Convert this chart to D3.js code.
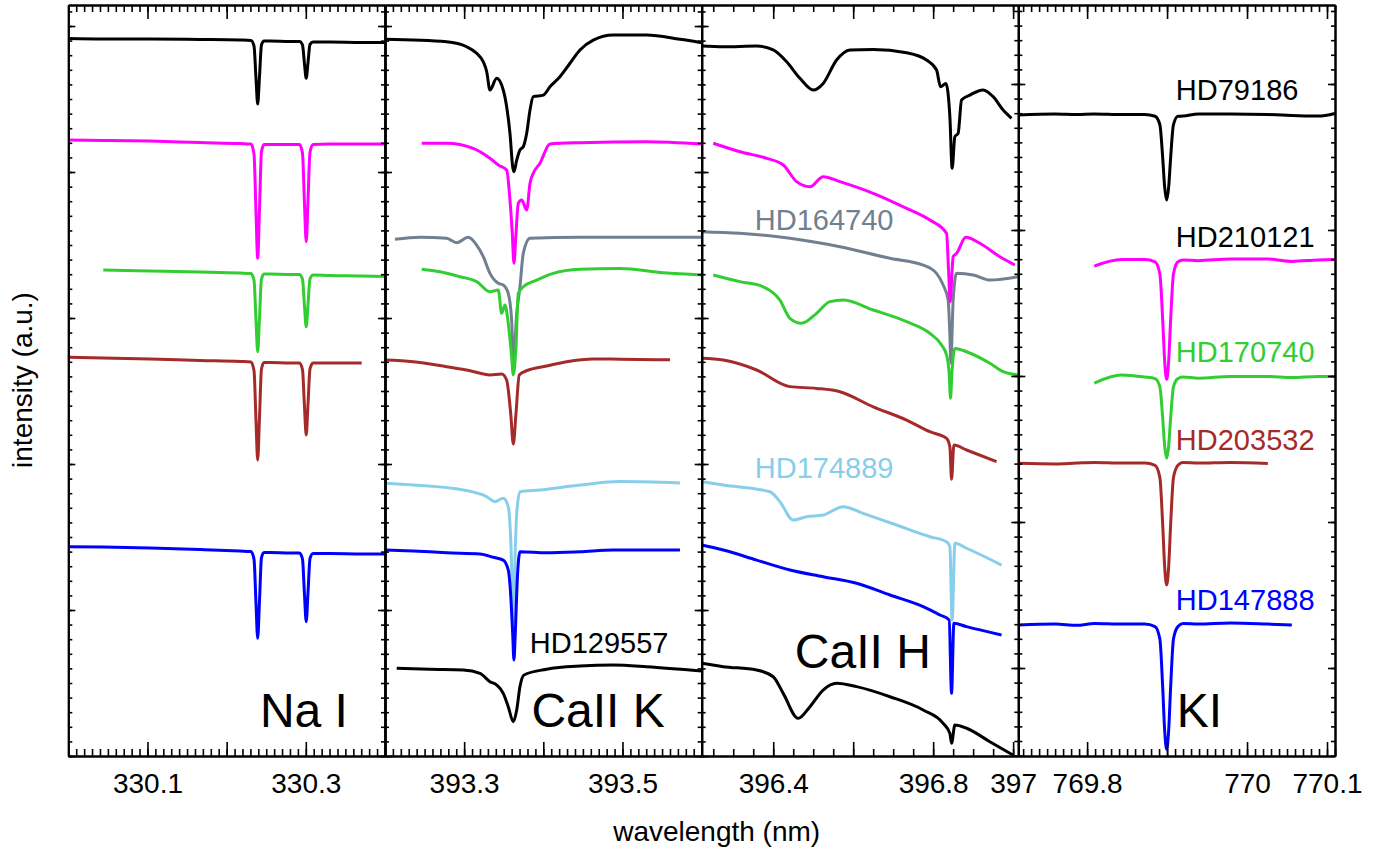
<!DOCTYPE html>
<html>
<head>
<meta charset="utf-8">
<script src="https://cdn.jsdelivr.net/npm/d3@7"></script>
<style>
body { margin: 0; background: #fff; }
text { font-family: "Liberation Sans", Arial, sans-serif; }
</style>
</head>
<body>
<script>
// stars and their colours
var starColors = {
  HD79186: "#000000", HD210121: "#ff00ff", HD164740: "#708090", HD170740: "#32cd32",
  HD203532: "#a52a2a", HD174889: "#87ceeb", HD147888: "#0000ff", HD129557: "#000000"
};
var labelColors = {
  HD79186: "#000000", HD210121: "#000000", HD164740: "#708090", HD170740: "#32cd32",
  HD203532: "#a52a2a", HD174889: "#87ceeb", HD147888: "#0000ff", HD129557: "#000000"
};

// x tick values (nm)
var naMajor = [330.1, 330.2, 330.3];
var naTickLabels = [330.1, 330.3];
var caKMajor = [393.3, 393.4, 393.5];
var caKTickLabels = [393.3, 393.5];
var caHMajor = [396.4, 396.6, 396.8, 397.0];
var caHTickLabels = [396.4, 396.8, 397];
var kiMajor = [769.8, 769.9, 770.0, 770.1];
var kiTickLabels = [769.8, 770, 770.1];

// Na I: shared wavelength grid (nm), intensity (a.u.)
var naWave = [330.0000, 330.0442, 330.1032, 330.1664, 330.2169, 330.2308, 330.2346, 330.2371, 330.2392, 330.2415, 330.2440, 330.2472,
  330.2548, 330.2800, 330.2920, 330.2958, 330.2983, 330.3005, 330.3028, 330.3053, 330.3091, 330.3306, 330.3706, 330.4000];
var naHD79186 = [4.914, 4.911, 4.911, 4.908, 4.904, 4.901, 4.862, 4.640, 4.466, 4.653, 4.870, 4.897, 4.897, 4.894, 4.894, 4.871, 4.742, 4.642, 4.750, 4.874, 4.890, 4.890, 4.887, 4.887];
var naHD210121 = [4.219, 4.216, 4.212, 4.202, 4.195, 4.192, 4.121, 3.722, 3.409, 3.745, 4.137, 4.188, 4.188, 4.188, 4.188, 4.129, 3.789, 3.523, 3.809, 4.135, 4.188, 4.192, 4.192, 4.192];
var naHD170740 = [null, 3.329, 3.322, 3.315, 3.308, 3.305, 3.257, 2.984, 2.769, 2.999, 3.267, 3.301, 3.301, 3.298, 3.298, 3.266, 3.084, 2.940, 3.094, 3.269, 3.295, 3.291, 3.288, 3.284];
var naHD203532 = [2.731, 2.726, 2.719, 2.709, 2.702, 2.699, 2.638, 2.296, 2.027, 2.316, 2.651, 2.695, 2.695, 2.692, 2.692, 2.647, 2.396, 2.199, 2.411, 2.652, 2.692, 2.692, 2.692, null];
var naHD147888 = [1.434, 1.432, 1.425, 1.414, 1.404, 1.401, 1.347, 1.044, 0.806, 1.062, 1.359, 1.394, 1.394, 1.390, 1.390, 1.348, 1.108, 0.920, 1.122, 1.353, 1.387, 1.387, 1.384, 1.384];

// K I: shared wavelength grid (nm), intensity (a.u.)
var kiWave = [769.714, 769.760, 769.787, 769.809, 769.843, 769.872, 769.885, 769.891, 769.8945, 769.897, 769.8995, 769.902,
  769.9045, 769.908, 769.9136, 769.920, 769.939, 769.979, 770.026, 770.056, 770.089, 770.110];
var kiHD79186 = [3.788, 3.795, 3.791, 3.795, 3.791, 3.791, 3.779, 3.721, 3.498, 3.293, 3.205, 3.293, 3.498, 3.721, 3.779, 3.780, 3.795, 3.795, 3.791, 3.785, 3.780, 3.798];
var kiHD210121 = [null, null, null, 2.753, 2.798, 2.798, 2.782, 2.699, 2.388, 2.101, 1.977, 2.101, 2.388, 2.699, 2.782, 2.795, 2.790, 2.801, 2.801, 2.785, 2.795, 2.798];
var kiHD170740 = [null, null, null, 1.952, 2.007, 1.993, 1.982, 1.926, 1.714, 1.520, 1.436, 1.520, 1.714, 1.926, 1.982, 1.993, 1.985, 1.997, 1.997, 1.990, 1.997, 1.997];
var kiHD203532 = [1.402, 1.398, 1.404, 1.408, 1.404, 1.404, 1.388, 1.304, 0.986, 0.694, 0.568, 0.694, 0.986, 1.304, 1.388, 1.408, 1.404, 1.408, 1.401, null, null, null];
var kiHD147888 = [0.295, 0.301, 0.292, 0.305, 0.301, 0.301, 0.284, 0.199, -0.128, -0.428, -0.557, -0.428, -0.128, 0.199, 0.284, 0.305, 0.301, 0.308, 0.301, 0.295, null, null];

// Ca II K: [nm, intensity]
var caK_HD79186 = [[393.2000, 4.909], [393.2779, 4.892], [393.3032, 4.858], [393.3158, 4.813], [393.3242, 4.755], [393.3285, 4.687], [393.3326, 4.562],
  [393.3411, 4.642], [393.3494, 4.562], [393.3537, 4.447], [393.3579, 4.265], [393.3613, 4.036], [393.3629, 4.002], [393.3664, 4.082], [393.3705, 4.151],
  [393.3747, 4.173], [393.3790, 4.265], [393.3832, 4.425], [393.3873, 4.516], [393.4000, 4.527], [393.4084, 4.584], [393.4210, 4.653], [393.4337, 4.745],
  [393.4463, 4.836], [393.4631, 4.904], [393.4884, 4.938], [393.5306, 4.938], [393.5726, 4.909], [393.6000, 4.886]];
var caK_HD210121 = [[393.2464, 4.197], [393.2779, 4.197], [393.3115, 4.162], [393.3326, 4.094], [393.3431, 4.048], [393.3537, 4.014], [393.3579, 3.808],
  [393.3608, 3.580], [393.3629, 3.375], [393.3655, 3.580], [393.3684, 3.786], [393.3727, 3.808], [393.3790, 3.740], [393.3832, 3.923], [393.3873, 3.991],
  [393.3958, 4.060], [393.4084, 4.192], [393.4463, 4.201], [393.5306, 4.208], [393.6000, 4.192]];
var caK_HD164740 = [[393.2126, 3.539], [393.2442, 3.553], [393.2779, 3.546], [393.2906, 3.516], [393.3052, 3.553], [393.3158, 3.500], [393.3242, 3.420],
  [393.3326, 3.306], [393.3431, 3.238], [393.3494, 3.226], [393.3557, 3.169], [393.3600, 2.986], [393.3621, 2.690], [393.3664, 3.032], [393.3705, 3.214],
  [393.3747, 3.443], [393.3832, 3.546], [393.4463, 3.553], [393.5306, 3.553], [393.6000, 3.553]];
var caK_HD170740 = [[393.2464, 3.334], [393.2695, 3.317], [393.2947, 3.283], [393.3158, 3.249], [393.3326, 3.180], [393.3431, 3.192], [393.3474, 3.032],
  [393.3516, 3.089], [393.3557, 2.964], [393.3600, 2.735], [393.3621, 2.610], [393.3655, 2.803], [393.3684, 3.169], [393.3747, 3.214], [393.3916, 3.260],
  [393.4126, 3.306], [393.4463, 3.334], [393.4968, 3.340], [393.5515, 3.310], [393.6000, 3.295]];
var caK_HD203532 = [[393.2000, 2.712], [393.2357, 2.701], [393.2779, 2.666], [393.3074, 2.639], [393.3326, 2.610], [393.3474, 2.616], [393.3537, 2.575],
  [393.3588, 2.347], [393.3621, 2.137], [393.3655, 2.347], [393.3696, 2.610], [393.3790, 2.639], [393.4042, 2.671], [393.4295, 2.701], [393.4631, 2.720],
  [393.4968, 2.718], [393.5600, 2.714]];
var caK_HD174889 = [[393.2000, 1.868], [393.2357, 1.856], [393.2989, 1.822], [393.3285, 1.776], [393.3389, 1.742], [393.3494, 1.765], [393.3557, 1.708],
  [393.3592, 1.434], [393.3621, 0.909], [393.3645, 1.400], [393.3664, 1.662], [393.3705, 1.810], [393.3958, 1.822], [393.4463, 1.856], [393.4968, 1.880],
  [393.5726, 1.870]];
var caK_HD147888 = [[393.2000, 1.411], [393.2357, 1.404], [393.2779, 1.392], [393.3200, 1.384], [393.3368, 1.361], [393.3494, 1.342], [393.3557, 1.274],
  [393.3592, 1.068], [393.3613, 0.840], [393.3629, 0.658], [393.3646, 0.840], [393.3671, 1.205], [393.3705, 1.399], [393.4042, 1.392], [393.4463, 1.399],
  [393.4884, 1.411], [393.5726, 1.411]];
var caK_HD129557 = [[393.2148, 0.601], [393.2568, 0.594], [393.2989, 0.589], [393.3200, 0.566], [393.3326, 0.509], [393.3411, 0.486], [393.3494, 0.429],
  [393.3557, 0.338], [393.3621, 0.235], [393.3664, 0.315], [393.3705, 0.475], [393.3756, 0.555], [393.4042, 0.594], [393.4463, 0.616], [393.4884, 0.623],
  [393.5306, 0.612], [393.6000, 0.582]];

// Ca II H: [nm, intensity]
var caH_HD79186 = [[396.221, 4.863], [396.275, 4.858], [396.3585, 4.863], [396.400, 4.836], [396.4335, 4.755], [396.4668, 4.642], [396.500, 4.562],
  [396.525, 4.607], [396.5585, 4.767], [396.5918, 4.836], [396.650, 4.840], [396.7335, 4.817], [396.7835, 4.767], [396.8085, 4.699], [396.8185, 4.584],
  [396.8318, 4.607], [396.8418, 4.379], [396.8475, 4.025], [396.8543, 4.242], [396.8625, 4.265], [396.871, 4.493], [396.8918, 4.527], [396.925, 4.562],
  [396.950, 4.516], [396.975, 4.425], [396.996, 4.368]];
var caH_HD210121 = [[396.250, 4.197], [396.3168, 4.139], [396.3835, 4.094], [396.425, 4.048], [396.4585, 3.934], [396.4918, 3.899], [396.525, 3.968],
  [396.5668, 3.934], [396.650, 3.854], [396.7335, 3.751], [396.7918, 3.671], [396.8335, 3.580], [396.8385, 3.329], [396.8425, 3.112], [396.8468, 3.295],
  [396.850, 3.420], [396.8585, 3.443], [396.8818, 3.553], [396.9168, 3.512], [396.9668, 3.420], [397.0043, 3.363]];
var caH_HD164740 = [[396.221, 3.591], [396.3168, 3.580], [396.4418, 3.546], [396.5668, 3.488], [396.6918, 3.409], [396.775, 3.363], [396.8085, 3.306],
  [396.825, 3.226], [396.8375, 3.123], [396.8418, 2.884], [396.8443, 2.690], [396.8475, 2.918], [396.850, 3.123], [396.8585, 3.306], [396.900, 3.295],
  [396.9418, 3.260], [397.0125, 3.283]];
var caH_HD170740 = [[396.250, 3.295], [396.3168, 3.249], [396.375, 3.214], [396.4168, 3.123], [396.4418, 2.998], [396.471, 2.964], [396.5085, 3.032],
  [396.5418, 3.112], [396.575, 3.123], [396.650, 3.055], [396.7335, 2.975], [396.7918, 2.895], [396.821, 2.815], [396.8335, 2.747], [396.840, 2.621],
  [396.8435, 2.450], [396.8468, 2.621], [396.8543, 2.792], [396.8835, 2.769], [396.9418, 2.690], [396.975, 2.632], [397.0125, 2.610]];
var caH_HD203532 = [[396.221, 2.724], [396.275, 2.712], [396.3585, 2.644], [396.4418, 2.530], [396.5085, 2.518], [396.5668, 2.495], [396.650, 2.392],
  [396.7335, 2.301], [396.7918, 2.221], [396.8335, 2.176], [396.8418, 2.118], [396.846, 1.895], [396.8518, 2.130], [396.8835, 2.096], [396.9585, 2.016]];
var caH_HD174889 = [[396.221, 1.879], [396.275, 1.856], [396.3918, 1.810], [396.4168, 1.742], [396.450, 1.616], [396.4835, 1.639], [396.525, 1.651],
  [396.575, 1.708], [396.625, 1.662], [396.7085, 1.582], [396.7918, 1.502], [396.8335, 1.468], [396.8418, 1.434], [396.8475, 0.932], [396.8543, 1.457],
  [396.8835, 1.423], [396.971, 1.308]];
var caH_HD147888 = [[396.221, 1.445], [396.275, 1.411], [396.3585, 1.342], [396.4418, 1.274], [396.525, 1.228], [396.6085, 1.183], [396.6918, 1.103],
  [396.775, 1.023], [396.8168, 0.966], [396.840, 0.932], [396.846, 0.429], [396.8518, 0.909], [396.8835, 0.886], [396.971, 0.829]];
var caH_HD129557 = [[396.221, 0.635], [396.275, 0.612], [396.3585, 0.589], [396.400, 0.543], [396.425, 0.429], [396.4625, 0.258], [396.4918, 0.338],
  [396.525, 0.452], [396.5585, 0.498], [396.6085, 0.475], [396.6918, 0.406], [396.775, 0.315], [396.825, 0.224], [396.8418, 0.155], [396.846, 0.087],
  [396.8543, 0.212], [396.8835, 0.190], [396.9418, 0.098], [396.9993, 0.007]];

// star labels: [name, panel, nm, intensity]
var starLabels = [
  ["HD79186", 3, 769.911, 3.890], ["HD210121", 3, 769.911, 2.886], ["HD170740", 3, 769.911, 2.098],
  ["HD203532", 3, 769.911, 1.493], ["HD147888", 3, 769.911, 0.397], ["HD164740", 2, 396.354, 3.603],
  ["HD174889", 2, 396.354, 1.902], ["HD129557", 1, 393.383, 0.703]
];
var panelTitles = ["Na I", "CaII K", "CaII H", "KI"];
var titleAnchors = [[330.242, 0.2], [393.385, 0.2], [396.454, 0.601], [769.912, -0.402]];

function gridPoints(wave, vals) {
  return wave.map(function(w, i) { return [w, vals[i]]; });
}

var panels = [
  { xDomain: [330.0, 330.4], yDomain: [0, 5.144], major: naMajor, labels: naTickLabels, minorStep: 0.01,
    series: [["HD79186", gridPoints(naWave, naHD79186)], ["HD210121", gridPoints(naWave, naHD210121)],
      ["HD170740", gridPoints(naWave, naHD170740)], ["HD203532", gridPoints(naWave, naHD203532)],
      ["HD147888", gridPoints(naWave, naHD147888)]] },
  { xDomain: [393.2, 393.6], yDomain: [0, 5.144], major: caKMajor, labels: caKTickLabels, minorStep: 0.01,
    series: [["HD164740", caK_HD164740], ["HD79186", caK_HD79186], ["HD210121", caK_HD210121], ["HD170740", caK_HD170740],
      ["HD203532", caK_HD203532], ["HD174889", caK_HD174889], ["HD147888", caK_HD147888], ["HD129557", caK_HD129557]] },
  { xDomain: [396.221, 397.013], yDomain: [0, 5.144], major: caHMajor, labels: caHTickLabels, minorStep: 0.05,
    series: [["HD164740", caH_HD164740], ["HD79186", caH_HD79186], ["HD210121", caH_HD210121], ["HD170740", caH_HD170740],
      ["HD203532", caH_HD203532], ["HD174889", caH_HD174889], ["HD147888", caH_HD147888], ["HD129557", caH_HD129557]] },
  { xDomain: [769.714, 770.110], yDomain: [-0.6027, 4.541], major: kiMajor, labels: kiTickLabels, minorStep: 0.01,
    series: [["HD79186", gridPoints(kiWave, kiHD79186)], ["HD210121", gridPoints(kiWave, kiHD210121)],
      ["HD170740", gridPoints(kiWave, kiHD170740)], ["HD203532", gridPoints(kiWave, kiHD203532)],
      ["HD147888", gridPoints(kiWave, kiHD147888)]] }
];

var w = 1384, h = 852;
var plotLeft = 68.3, plotRight = 1335, plotTop = 5, plotBottom = 756;
var pw = (plotRight - plotLeft) / 4;

var svg = d3.select("body").append("svg")
  .attr("width", w)
  .attr("height", h);

function stepTicks(domain, step) {
  var k0 = Math.ceil(domain[0] / step - 1e-6), k1 = Math.floor(domain[1] / step + 1e-6);
  return d3.range(k0, k1 + 1).map(function(k) { return +(k * step).toFixed(4); });
}

function styleAxis(g) {
  g.attr("font-size", null).attr("font-family", null);
  g.selectAll("line").attr("stroke-width", 1.6);
  g.select(".domain").attr("stroke-width", 2);
  g.selectAll("text").filter(function() { return this.textContent == ""; }).remove();
  g.selectAll("text").style("font-size", "28px");
}

// draws an unlabelled tick axis (minor + major) at a position
function tickAxis(axisFn, scale, transform, minor, major, minorLen, majorLen) {
  svg.append("g").attr("transform", transform)
    .call(axisFn(scale).tickValues(minor).tickSizeInner(minorLen).tickSizeOuter(0).tickFormat(""))
    .call(styleAxis);
  svg.append("g").attr("transform", transform)
    .call(axisFn(scale).tickValues(major).tickSizeInner(majorLen).tickSizeOuter(0).tickFormat(""))
    .call(styleAxis);
}

var scales = [];

panels.forEach(function(p, i) {
  var x0 = plotLeft + i * pw;
  var xScale = d3.scaleLinear().domain(p.xDomain).range([x0, x0 + pw]);
  var yScale = d3.scaleLinear().domain(p.yDomain).range([plotBottom, plotTop]);
  scales.push([xScale, yScale]);

  var line = d3.line()
    .defined(function(d) { return d[1] != null; })
    .x(function(d) { return xScale(d[0]); })
    .y(function(d) { return yScale(d[1]); })
    .curve(d3.curveMonotoneX);

  p.series.forEach(function(s) {
    svg.append("path")
      .datum(s[1])
      .attr("fill", "none")
      .attr("stroke", starColors[s[0]])
      .attr("stroke-width", 3)
      .attr("stroke-linejoin", "round")
      .attr("d", line);
  });

  var minorX = stepTicks(p.xDomain, p.minorStep);
  var yMajor = stepTicks(p.yDomain, 1);
  var yMinor = stepTicks(p.yDomain, 0.1);

  // bottom axis with labels
  tickAxis(d3.axisBottom, xScale, "translate(0," + plotBottom + ")", minorX, p.major, -7, -14);
  svg.append("g")
    .attr("transform", "translate(0," + plotBottom + ")")
    .call(d3.axisBottom(xScale).tickValues(p.labels).tickSizeInner(0).tickSizeOuter(0).tickPadding(17)
      .tickFormat(function(d) { return String(d); }))
    .call(styleAxis)
    .call(function(g) { g.select(".domain").remove(); });

  // top axis
  tickAxis(d3.axisTop, xScale, "translate(0," + plotTop + ")", minorX, p.major, -7, -14);

  // left edge: ticks into this panel, and into the previous one
  tickAxis(d3.axisRight, yScale, "translate(" + x0 + ",0)", yMinor, yMajor, 4, 7);
  if (i > 0) {
    tickAxis(d3.axisLeft, yScale, "translate(" + x0 + ",0)", yMinor, yMajor, 4, 7);
  }
  if (i == 3) {
    tickAxis(d3.axisLeft, yScale, "translate(" + (x0 + pw) + ",0)", yMinor, yMajor, 4, 7);
  }

  // panel title
  svg.append("text")
    .attr("x", xScale(titleAnchors[i][0]))
    .attr("y", yScale(titleAnchors[i][1]))
    .style("font-size", "48px")
    .attr("fill", "#000")
    .text(panelTitles[i]);
});

// star labels
starLabels.forEach(function(d) {
  var sc = scales[d[1]];
  svg.append("text")
    .attr("x", sc[0](d[2]))
    .attr("y", sc[1](d[3]))
    .style("font-size", "29px")
    .attr("fill", labelColors[d[0]])
    .text(d[0]);
});

// axis titles
svg.append("text")
  .attr("x", (plotLeft + plotRight) / 2 + 15)
  .attr("y", 841)
  .style("text-anchor", "middle")
  .style("font-size", "28px")
  .text("wavelength (nm)");

svg.append("text")
  .attr("transform", "translate(32,380) rotate(-90)")
  .style("text-anchor", "middle")
  .style("font-size", "28px")
  .text("intensity (a.u.)");
</script>
</body>
</html>
